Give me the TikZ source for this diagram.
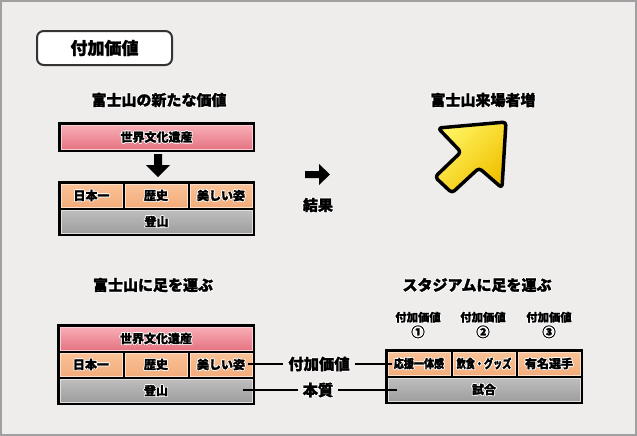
\documentclass[tikz,border=0pt]{standalone}
\usepackage{fontspec}
\usepackage{graphicx}
\setmainfont{Noto Sans CJK JP}[BoldFeatures={FakeBold=1.6}]
\usetikzlibrary{fit}
\definecolor{bg}{HTML}{EFECEC}
\definecolor{framec}{HTML}{A0A0A0}
\definecolor{pinkT}{HTML}{F8AEB6}
\definecolor{pinkB}{HTML}{E57482}
\definecolor{orngT}{HTML}{F9C296}
\definecolor{orngB}{HTML}{F3AC7C}
\definecolor{grayT}{HTML}{BEBEBE}
\definecolor{grayB}{HTML}{9E9E9E}
\definecolor{yelT}{HTML}{FFF460}
\definecolor{yelB}{HTML}{F0C000}
\newcommand\hl[1]{{\setbox0=\hbox{#1}%
\def\hc##1##2{\rlap{\kern##1\raisebox{##2}{\color{white}\copy0}}}%
\hc{.6pt}{0pt}\hc{-.6pt}{0pt}\hc{0pt}{.6pt}\hc{0pt}{-.6pt}%
\hc{.45pt}{.45pt}\hc{-.45pt}{.45pt}\hc{.45pt}{-.45pt}\hc{-.45pt}{-.45pt}\box0}}
\tikzset{
 blk/.style={fill=black, draw=none, inner sep=0pt},
 cellbase/.style={inner sep=0pt, draw=white!75!black, line width=0.3pt},
 pinkc/.style={cellbase, top color=pinkT, bottom color=pinkB, draw=pinkT!60!white},
 orngc/.style={cellbase, top color=orngT, bottom color=orngB, draw=orngT!50!white},
 grayc/.style={cellbase, top color=grayT, bottom color=grayB, draw=grayT!50!white},
 ct/.style={font=\bfseries\fontsize{9}{10}\selectfont, inner sep=0pt},
 head/.style={font=\bfseries\fontsize{11.25}{13}\selectfont, inner sep=1pt},
 midlab/.style={font=\bfseries\fontsize{11.5}{13}\selectfont, inner ysep=1pt, inner xsep=3.5pt},
 collab/.style={font=\bfseries\fontsize{8.5}{10}\selectfont, inner sep=0.5pt},
 conn/.style={draw=black, line width=1.1pt},
}
\begin{document}
\begin{tikzpicture}[x=0.75pt,y=-0.75pt]
\useasboundingbox (0,0) rectangle (637,436);
\fill[bg] (0,0) rectangle (637,436);
\draw[framec, line width=1.5pt] (1,1) rectangle (636,435);

% title
\node[draw=black!80, line width=1.5pt, fill=white, rounded corners=5pt, inner sep=0pt, fit={(37,31) (172,65)}] (title) {};
\node[font=\bfseries\fontsize{12.75}{14}\selectfont, inner sep=0pt] (titletxt) at (title.center) {付加価値};

% headers
\node[head] (h1) at (159,100) {\hl{富士山の新たな価値}};
\node[head] (h2) at (483,100) {\hl{富士山来場者増}};
\node[head] (h3) at (153,285) {\hl{富士山に足を運ぶ}};
\node[head] (h4) at (477,285) {\hl{スタジアムに足を運ぶ}};

% top-left diagram
\node[blk, fit={(58,122) (255,152)}] (b1) {};
\node[pinkc, fit={(61,125) (252,149)}, label={[ct]center:\hl{世界文化遺産}}] (sekai1) {};
\node[blk, fit={(58,181) (255,236)}] (b2) {};
\node[orngc, fit={(61,184) (122,207)}, label={[ct]center:\hl{日本一}}] (nihon1) {};
\node[orngc, fit={(125,184) (187,207)}, label={[ct]center:\hl{歴史}}] (reki1) {};
\node[orngc, fit={(190,184) (252,207)}, label={[ct]center:\hl{美しい姿}}] (uts1) {};
\node[grayc, fit={(61,210) (252,233)}, label={[ct]center:\hl{登山}}] (tozan1) {};
\fill[black] (154,154) -- (162,154) -- (162,165) -- (170,165) -- (158,177) -- (146,165) -- (154,165) -- cycle;

% result arrow
\fill[black] (305,171) -- (319,171) -- (319,164) -- (330,174.5) -- (319,185) -- (319,178) -- (305,178) -- cycle;
\node[head] (kekka) at (318,205) {\hl{結果}};

% yellow arrow
\draw[black, line width=2.6pt, line join=round, rounded corners=2.5pt, top color=yelT, bottom color=yelB, shading angle=45]
 (438,128) -- (506,122) -- (502,188) -- (479,168) -- (452,193) -- (435,177) -- (461,152) -- cycle;

% lower-left diagram
\node[blk, fit={(57,324) (255,405)}] (b3) {};
\node[pinkc, fit={(60,327) (252,350)}, label={[ct]center:\hl{世界文化遺産}}] (sekai2) {};
\node[orngc, fit={(60,353) (122,376)}, label={[ct]center:\hl{日本一}}] (nihon2) {};
\node[orngc, fit={(125,353) (187,376)}, label={[ct]center:\hl{歴史}}] (reki2) {};
\node[orngc, fit={(190,353) (252,376)}, label={[ct]center:\hl{美しい姿}}] (uts2) {};
\node[grayc, fit={(60,379) (252,402)}, label={[ct]center:\hl{登山}}] (tozan2) {};

% lower-right diagram
\node[collab, align=center] (v1) at (418,325) {\hl{付加価値}\\[0pt]{\fontsize{10}{11}\selectfont\hl{①}}};
\node[collab, align=center] (v2) at (483,325) {\hl{付加価値}\\[0pt]{\fontsize{10}{11}\selectfont\hl{②}}};
\node[collab, align=center] (v3) at (549,325) {\hl{付加価値}\\[0pt]{\fontsize{10}{11}\selectfont\hl{③}}};
\node[blk, fit={(385,349) (583,404)}] (b4) {};
\node[orngc, fit={(388,352) (450,375)}, label={[ct]center:\hl{\scalebox{0.84}[1]{応援一体感}}}] (oen) {};
\node[orngc, fit={(453,352) (515,375)}, label={[ct]center:\hl{\scalebox{0.76}[1]{飲食・グッズ}}}] (inshoku) {};
\node[orngc, fit={(518,352) (580,375)}, label={[ct]center:\hl{有名選手}}] (yumei) {};
\node[grayc, fit={(388,378) (580,401)}, label={[ct]center:\hl{試合}}] (shiai) {};

% middle labels
\node[midlab] (fuka) at (319,364) {\hl{付加価値}};
\node[midlab] (hon) at (318,390) {\hl{本質}};
\draw[conn] ([xshift=-3pt]uts2.east |- fuka.center) -- (fuka);
\draw[conn] (fuka) -- ([xshift=3pt]oen.west |- fuka.center);
\draw[conn] ([xshift=-7pt]tozan2.east |- hon.center) -- (hon);
\draw[conn] (hon) -- ([xshift=7pt]shiai.west |- hon.center);
\end{tikzpicture}
\end{document}
